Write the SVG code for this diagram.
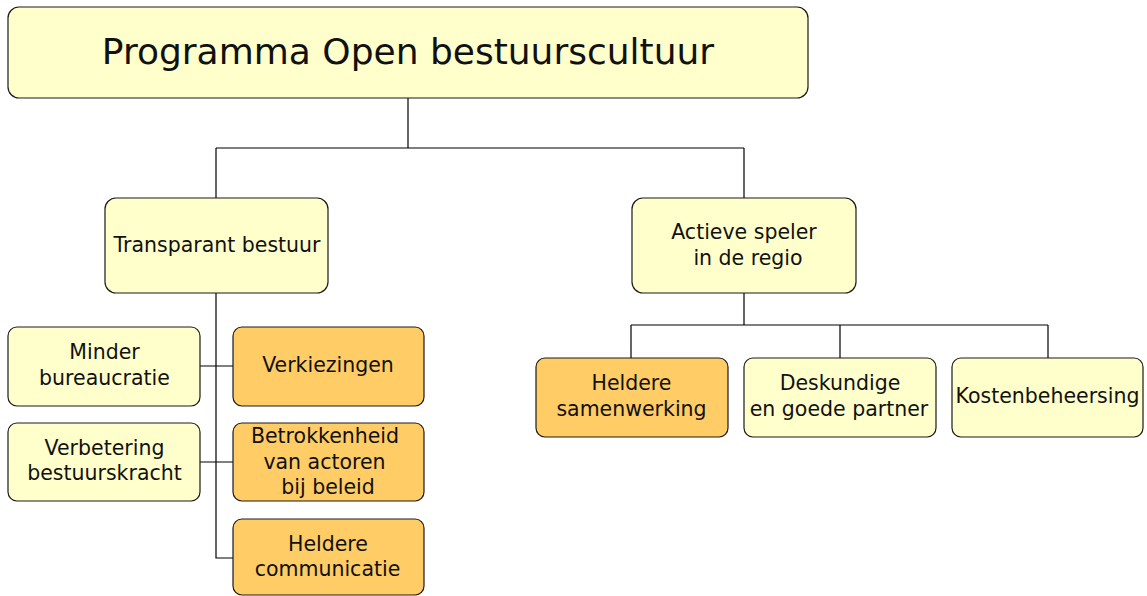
<svg xmlns="http://www.w3.org/2000/svg" width="1147" height="596" viewBox="0 0 1147 596">
<style>
.n rect{stroke:#1a1a1a;stroke-width:1.2}
.y rect{fill:#ffffcc}
.o rect{fill:#ffcc66}
text{font-family:"DejaVu Sans","Liberation Sans",sans-serif;font-size:20.5px;fill:#111;text-anchor:middle}
.c{fill:none;stroke:#000;stroke-width:1.2}
</style>
<rect width="1147" height="596" fill="#fff"/>
<g id="connectors" class="c">
<path d="M408 98V148M216 148H744M216 148V198M744 148V198"/>
<path d="M216 293V558H233M200 366H233M200 462H233"/>
<path d="M744 293V325M631 325H1048M631 325V358M840 325V358M1048 325V358"/>
</g>
<g id="root" class="n y"><rect x="8" y="7" width="800" height="91" rx="11"/><text x="408" y="64" style="font-size:36px">Programma Open bestuurscultuur</text></g>
<g id="transparant" class="n y"><rect x="105" y="198" width="223" height="95" rx="11"/><text x="217" y="252">Transparant bestuur</text></g>
<g id="actieve" class="n y"><rect x="632" y="198" width="224" height="95" rx="11"/><text x="744" y="239">Actieve speler</text><text x="748" y="265">in de regio</text></g>
<g id="minder" class="n y"><rect x="8" y="327" width="192" height="79" rx="9"/><text x="104.5" y="359">Minder</text><text x="104.5" y="385">bureaucratie</text></g>
<g id="verkiezingen" class="n o"><rect x="233" y="327" width="191" height="79" rx="9"/><text x="328" y="372">Verkiezingen</text></g>
<g id="verbetering" class="n y"><rect x="8" y="423" width="192" height="78" rx="9"/><text x="104.5" y="455">Verbetering</text><text x="104.5" y="480">bestuurskracht</text></g>
<g id="betrokkenheid" class="n o"><rect x="233" y="423" width="191" height="78" rx="9"/><text x="325" y="443">Betrokkenheid</text><text x="324.5" y="469">van actoren</text><text x="328" y="494">bij beleid</text></g>
<g id="communicatie" class="n o"><rect x="233" y="519" width="191" height="76" rx="9"/><text x="328" y="551">Heldere</text><text x="327.5" y="576">communicatie</text></g>
<g id="samenwerking" class="n o"><rect x="536" y="358" width="192" height="79" rx="9"/><text x="631.5" y="390">Heldere</text><text x="631.5" y="416">samenwerking</text></g>
<g id="deskundige" class="n y"><rect x="744" y="358" width="192" height="79" rx="9"/><text x="840" y="390">Deskundige</text><text x="839" y="416">en goede partner</text></g>
<g id="kosten" class="n y"><rect x="952" y="358" width="191" height="79" rx="9"/><text x="1047.5" y="403">Kostenbeheersing</text></g>
</svg>
